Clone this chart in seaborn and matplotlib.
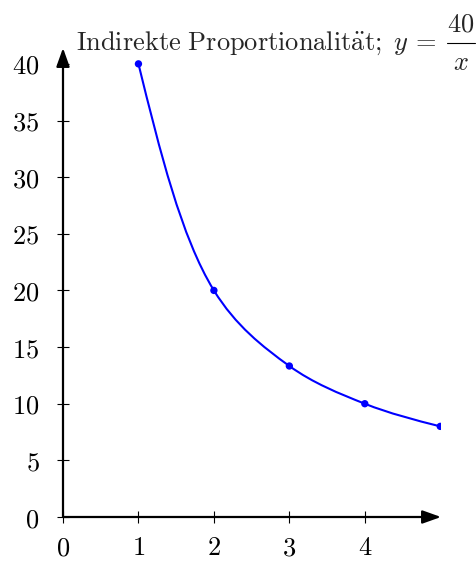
import matplotlib
matplotlib.use("Agg")
import matplotlib.pyplot as plt
import numpy as np
import pandas as pd
import seaborn as sns
from matplotlib.path import Path
from matplotlib.patches import PathPatch
from matplotlib.lines import Line2D
from matplotlib.transforms import IdentityTransform

# Data
x_values = [1, 2, 3, 4, 5]
y_values = [40, 20, 13.33, 10, 8]
x_ticks = [0, 1, 2, 3, 4]
y_ticks = [0, 5, 10, 15, 20, 25, 30, 35, 40]
title_text = r"$\mathrm{Indirekte\ Proportionalit\ddot{a}t;}\ y\, =$"
frac_num = "$40$"
frac_den = "$x$"

sns.set_theme(style="white")
plt.rcParams["mathtext.fontset"] = "cm"
plt.rcParams["font.family"] = ["DejaVu Serif"]

df = pd.DataFrame({"x": x_values, "y": y_values})

fig = plt.figure(figsize=(4.77, 5.61), dpi=100)
W, H = 477, 561
x_min, x_max = 0, 5.01
y_min, y_max = 0, 41.4
left, right = 63 / W, 441 / W
bottom, top = 1 - 517 / H, 1 - 48 / H
ax = fig.add_axes([left, bottom, right - left, top - bottom])
ax.set_xlim(x_min, x_max)
ax.set_ylim(y_min, y_max)
ax.set_facecolor("none")


def smooth_path(pts):
    """Centripetal Catmull-Rom through screen points, as bezier segments."""
    pts = np.asarray(pts, dtype=float)
    n = len(pts)
    d = np.sqrt(np.linalg.norm(np.diff(pts, axis=0), axis=1))  # knot intervals
    tangents = [None] * n
    for i in range(1, n - 1):
        a, b = d[i - 1], d[i]
        tangents[i] = ((pts[i] - pts[i - 1]) / a
                       - (pts[i + 1] - pts[i - 1]) / (a + b)
                       + (pts[i + 1] - pts[i]) / b)
    verts = [pts[0]]
    codes = [Path.MOVETO]
    for i in range(n - 1):
        p1, p2 = pts[i], pts[i + 1]
        c1 = p1 + tangents[i] * d[i] / 3 if tangents[i] is not None else None
        c2 = p2 - tangents[i + 1] * d[i] / 3 if tangents[i + 1] is not None else None
        if c1 is None:
            c1 = p1 + (c2 - p1) / 2
        if c2 is None:
            c2 = p2 + (c1 - p2) / 2
        verts += [c1, c2, p2]
        codes += [Path.CURVE4] * 3
    return Path(verts, codes)


screen_pts = ax.transData.transform(df[["x", "y"]].to_numpy())
ax.add_patch(PathPatch(smooth_path(screen_pts), transform=IdentityTransform(),
                       facecolor="none", edgecolor="#0000ff", lw=1.5, zorder=3))
sns.scatterplot(data=df, x="x", y="y", color="#0000ff", s=28, edgecolor="none",
                ax=ax, zorder=4, legend=False)

for s in ax.spines.values():
    s.set_visible(False)

arrow_style = dict(arrowstyle="-|>,head_length=0.7,head_width=0.25", lw=1.6,
                   color="black", mutation_scale=16, shrinkA=0, shrinkB=0)
ax.annotate("", xy=(x_max, 0), xytext=(0, 0), annotation_clip=False,
            arrowprops=arrow_style)
ax.annotate("", xy=(0, y_max), xytext=(0, 0), annotation_clip=False,
            arrowprops=arrow_style)

ax.set_xticks(x_ticks)
ax.set_xticklabels([f"${t}$" for t in x_ticks])
ax.set_yticks(y_ticks)
ax.set_yticklabels([f"${t}$" for t in y_ticks])
ax.tick_params(axis="both", direction="inout", length=8, width=0.8,
               color="black", labelsize=19, labelcolor="black",
               bottom=True, left=True)
ax.tick_params(axis="x", pad=9)
ax.tick_params(axis="y", pad=13)
ax.set_xlabel("")
ax.set_ylabel("")
ax.grid(False)

# title: text, then a stacked fraction
fig.text(76 / W, 1 - 50 / H, title_text, ha="left", va="baseline", fontsize=19)
fig.text(461 / W, 1 - 24 / H, frac_num, ha="center", va="center", fontsize=19)
fig.text(461 / W, 1 - 62 / H, frac_den, ha="center", va="center", fontsize=19)
fig.add_artist(Line2D([447 / W, 475 / W], [1 - 43 / H, 1 - 43 / H],
                      transform=fig.transFigure, color="black", lw=0.8))

fig.savefig("out.png", dpi=100)
